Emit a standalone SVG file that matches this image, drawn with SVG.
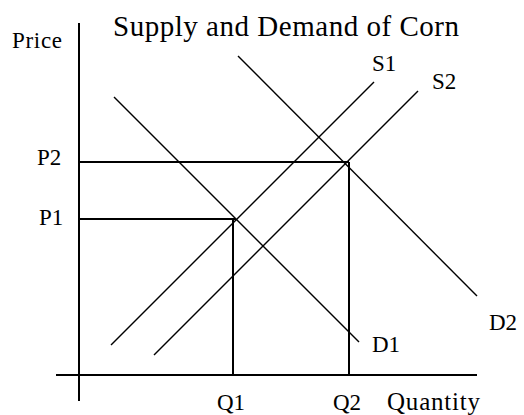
<svg xmlns="http://www.w3.org/2000/svg" width="524" height="415" viewBox="0 0 524 415">
<style>
.bg{fill:#ffffff}
.ax{stroke:#000;stroke-width:2;fill:none}
.cv{stroke:#000;stroke-width:1.4;fill:none}
text{font-family:"Liberation Serif","Times New Roman",serif;fill:#000}
.lb{font-size:23px}
.tt{font-size:29px}
</style>
<rect class="bg" x="0" y="0" width="524" height="415"/>
<g id="axes">
<line class="ax" x1="79" y1="23" x2="79" y2="401"/>
<line class="ax" x1="56" y1="375" x2="477" y2="375"/>
</g>
<g id="connectors">
<line id="p2-line" class="ax" x1="79" y1="162" x2="349" y2="162"/>
<line id="p1-line" class="ax" x1="79" y1="219" x2="236" y2="219"/>
<line id="q1-line" class="ax" x1="233" y1="219" x2="233" y2="375"/>
<line id="q2-line" class="ax" x1="349" y1="162" x2="349" y2="375"/>
<line id="d1" class="cv" x1="114" y1="97" x2="359" y2="342"/>
<line id="d2" class="cv" x1="238" y1="56" x2="477" y2="296"/>
<line id="s1" class="cv" x1="374" y1="82" x2="111" y2="345"/>
<line id="s2" class="cv" x1="418" y1="91" x2="154" y2="355"/>
</g>
<g id="title"><text class="tt" x="113" y="36" textLength="346" lengthAdjust="spacing">Supply and Demand of Corn</text></g>
<g id="price"><text class="lb" x="12" y="48" textLength="50" lengthAdjust="spacing">Price</text></g>
<g id="quantity"><text class="lb" x="387" y="410" style="font-size:25px" textLength="93" lengthAdjust="spacing">Quantity</text></g>
<g id="label-s1"><text class="lb" x="372" y="71">S1</text></g>
<g id="label-s2"><text class="lb" x="432" y="89">S2</text></g>
<g id="label-p2"><text class="lb" x="37" y="165">P2</text></g>
<g id="label-p1"><text class="lb" x="39" y="225">P1</text></g>
<g id="label-d1"><text class="lb" x="372" y="352">D1</text></g>
<g id="label-d2"><text class="lb" x="489" y="330">D2</text></g>
<g id="label-q1"><text class="lb" x="217" y="410">Q1</text></g>
<g id="label-q2"><text class="lb" x="333" y="410">Q2</text></g>
</svg>
